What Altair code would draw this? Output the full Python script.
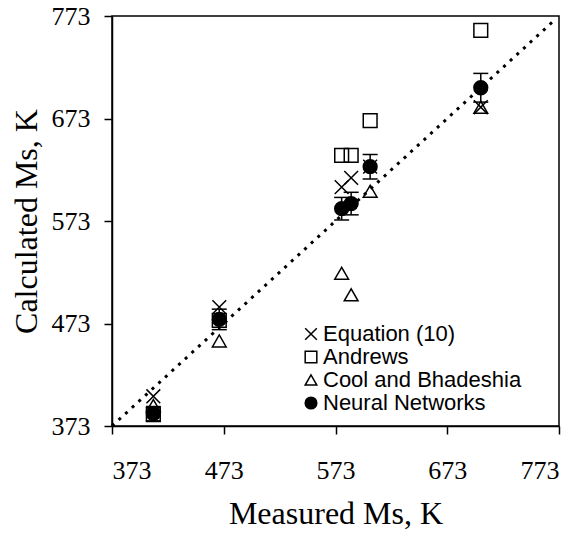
import altair as alt
import pandas as pd

# Measured vs calculated Ms (K)
measured = [410, 469, 578.5, 587, 604, 703]
equation10 = [402, 489, 606, 615, 626, 684]
andrews = [384, 476, 637, 637, 671, 759]
cool_bhadeshia = [393, 456, 522, 501, 602, 684]
neural = [385, 477, 585, 590, 626, 703]
nn_err = [7, 10, 11, 11, 12, 14]

series_names = ["Equation (10)", "Andrews", "Cool and Bhadeshia", "Neural Networks"]
ticks = [373, 473, 573, 673, 773]
diag = [373, 768]

rows = []
for name, vals in zip(series_names, [equation10, andrews, cool_bhadeshia, neural]):
    for m, v in zip(measured, vals):
        rows.append({"measured": m, "calc": v, "series": name})
pts = pd.DataFrame(rows)

err = pd.DataFrame({"measured": measured,
                    "lo": [n - e for n, e in zip(neural, nn_err)],
                    "hi": [n + e for n, e in zip(neural, nn_err)]})
line_df = pd.DataFrame({"measured": diag, "calc": diag})

xs = alt.Scale(domain=[373, 773], nice=False, zero=False)
ys = alt.Scale(domain=[373, 773], nice=False, zero=False)

xaxis = alt.Axis(values=ticks, title="Measured Ms, K", grid=False, tickSize=8,
                 labelPadding=23, titleY=97, titleBaseline="alphabetic")
yaxis = alt.Axis(values=ticks, title="Calculated Ms, K", grid=False, tickSize=8,
                 labelPadding=14, titleX=-75.5, titleY=205, titleBaseline="alphabetic")

line = alt.Chart(line_df).mark_line(color="black", strokeWidth=3, strokeDash=[3, 6]).encode(
    x=alt.X("measured:Q", scale=xs, axis=xaxis),
    y=alt.Y("calc:Q", scale=ys, axis=yaxis),
)

rule = alt.Chart(err).mark_rule(color="black", strokeWidth=1.5).encode(
    x=alt.X("measured:Q", scale=xs), y=alt.Y("lo:Q", scale=ys), y2="hi:Q"
)
cap_lo = alt.Chart(err).mark_tick(color="black", orient="horizontal", size=15, thickness=1.5, opacity=1).encode(
    x=alt.X("measured:Q", scale=xs), y=alt.Y("lo:Q", scale=ys)
)
cap_hi = alt.Chart(err).mark_tick(color="black", orient="horizontal", size=15, thickness=1.5, opacity=1).encode(
    x=alt.X("measured:Q", scale=xs), y=alt.Y("hi:Q", scale=ys)
)

legend = alt.Legend(title=None, orient="none", legendX=188, legendY=307, padding=0,
                    labelFont="Liberation Sans", labelFontSize=22, labelColor="black",
                    labelLimit=400, symbolSize=135, symbolStrokeColor="black", symbolStrokeWidth=1.5,
                    symbolOpacity=1, labelOffset=1, rowPadding=1)

points = alt.Chart(pts).mark_point(strokeWidth=1.5, size=190, opacity=1).encode(
    x=alt.X("measured:Q", scale=xs),
    y=alt.Y("calc:Q", scale=ys),
    shape=alt.Shape("series:N", scale=alt.Scale(domain=series_names,
                    range=["M-1,-1L1,1M-1,1L1,-1", "square", "triangle-up", "circle"]), legend=legend),
    fill=alt.Fill("series:N", scale=alt.Scale(domain=series_names,
                  range=["transparent", "transparent", "transparent", "black"]), legend=legend),
    stroke=alt.Stroke("series:N", scale=alt.Scale(domain=series_names,
                      range=["black", "black", "black", "black"]), legend=legend),
)

chart = alt.layer(line, rule, cap_lo, cap_hi, points).properties(
    width=447, height=410,
    autosize=alt.AutoSizeParams(type="none"),
    padding={"left": 112, "top": 16, "right": 21, "bottom": 108},
    background="white",
).configure_view(stroke="black", strokeWidth=1.5).configure_axis(
    domainColor="black", domainWidth=1.5, tickColor="black", tickWidth=1.5,
    labelFont="Liberation Serif", labelFontSize=26, labelColor="black",
    titleFont="Liberation Serif", titleFontSize=32, titleFontWeight="normal", titleColor="black",
)

chart.save("out.html", embed_options={"renderer": "svg", "actions": False})
